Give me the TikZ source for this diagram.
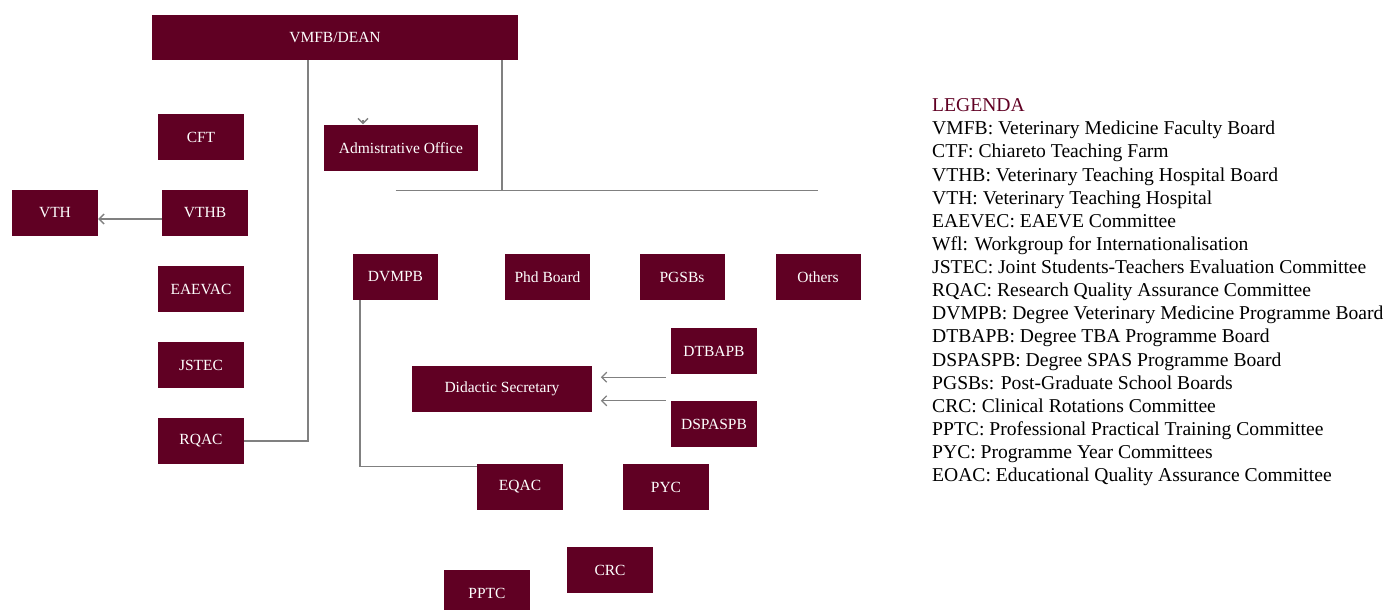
\documentclass[tikz,border=0pt]{standalone}
\usepackage{fontspec}
\setmainfont{Liberation Serif}
\usetikzlibrary{arrows.meta}
\definecolor{maroon}{RGB}{96,0,35}
\definecolor{lnk}{RGB}{128,128,128}
\begin{document}
\begin{tikzpicture}[x=1pt,y=-1pt,
  box/.style={fill=maroon, text=white, inner sep=0pt, minimum width=86pt, minimum height=46pt, font=\fontsize{15.5}{18}\selectfont},
  conn/.style={draw=lnk, line width=1.3pt},
  arr/.style={conn, -{Straight Barb[length=5pt,width=10pt]}}]
\useasboundingbox (0,0) rectangle (1386,610);
% boxes
\node[box, minimum width=366pt, minimum height=45pt] (dean) at (335,37.5) {VMFB/DEAN};
\node[box] (cft) at (201,137) {CFT};
\node[box, minimum width=154pt] (admin) at (401,148) {Admistrative Office};
\node[box] (vthb) at (205,213) {VTHB};
\node[box] (vth) at (55,213) {VTH};
\node[box] (eaevac) at (201,289) {EAEVAC};
\node[box] (jstec) at (201,365) {JSTEC};
\node[box] (rqac) at (201,441) {RQAC};
\node[box, minimum width=85pt] (dvmpb) at (395.5,277) {DVMPB};
\node[box, minimum width=85pt] (phd) at (547.5,277) {Phd Board};
\node[box, minimum width=85pt] (pgsbs) at (682,277) {PGSBs};
\node[box, minimum width=85pt] (others) at (818,277) {Others};
\node[box, minimum width=180pt] (didactic) at (502,389) {Didactic Secretary};
\node[box] (dtbapb) at (714,351) {DTBAPB};
\node[box] (dspaspb) at (714,424) {DSPASPB};
\node[box] (eqac) at (520,487) {EQAC};
\node[box] (pyc) at (666,487) {PYC};
\node[box] (crc) at (610,570) {CRC};
\node[box] (pptc) at (487,593) {PPTC};
% connectors
\draw[conn] (rqac.east) -| ([xshift=-27pt]dean.south);
\coordinate (bus) at ([xshift=167pt,yshift=-130pt]dean.south);
\draw[conn] ([xshift=167pt]dean.south) -- (bus);
\draw[conn] (dvmpb.north |- bus) -- (others.north |- bus);
\draw[arr] ([xshift=-38pt,yshift=5pt]admin.north) -- ([xshift=-38pt,yshift=0.5pt]admin.north);
\draw[arr] ([yshift=-6pt]vthb.west) -- ([yshift=-6pt]vth.east);
\draw[arr] ([xshift=-5pt,yshift=-3pt]dtbapb.south west) -- ++(-65,0);
\draw[arr] ([xshift=-5pt]dspaspb.north west) -- ++(-65,0);
\draw[conn] ([xshift=-35.5pt]dvmpb.south) |- ([yshift=-2.5pt]eqac.north west);
% legend
\node[anchor=north west, align=left, inner sep=0pt, font=\fontsize{19.6}{23.13}\selectfont] (legend) at (932,98.5) {\textcolor{maroon}{LEGENDA}\\
VMFB: Veterinary Medicine Faculty Board\\
CTF: Chiareto Teaching Farm\\
VTHB: Veterinary Teaching Hospital Board\\
VTH: Veterinary Teaching Hospital\\
EAEVEC: EAEVE Committee\\
Wfl: Workgroup for Internationalisation\\
JSTEC: Joint Students-Teachers Evaluation Committee\\
RQAC: Research Quality Assurance Committee\\
DVMPB: Degree Veterinary Medicine Programme Board\\
DTBAPB: Degree TBA Programme Board\\
DSPASPB: Degree SPAS Programme Board\\
PGSBs: Post-Graduate School Boards\\
CRC: Clinical Rotations Committee\\
PPTC: Professional Practical Training Committee\\
PYC: Programme Year Committees\\
EOAC: Educational Quality Assurance Committee};
\end{tikzpicture}
\end{document}
